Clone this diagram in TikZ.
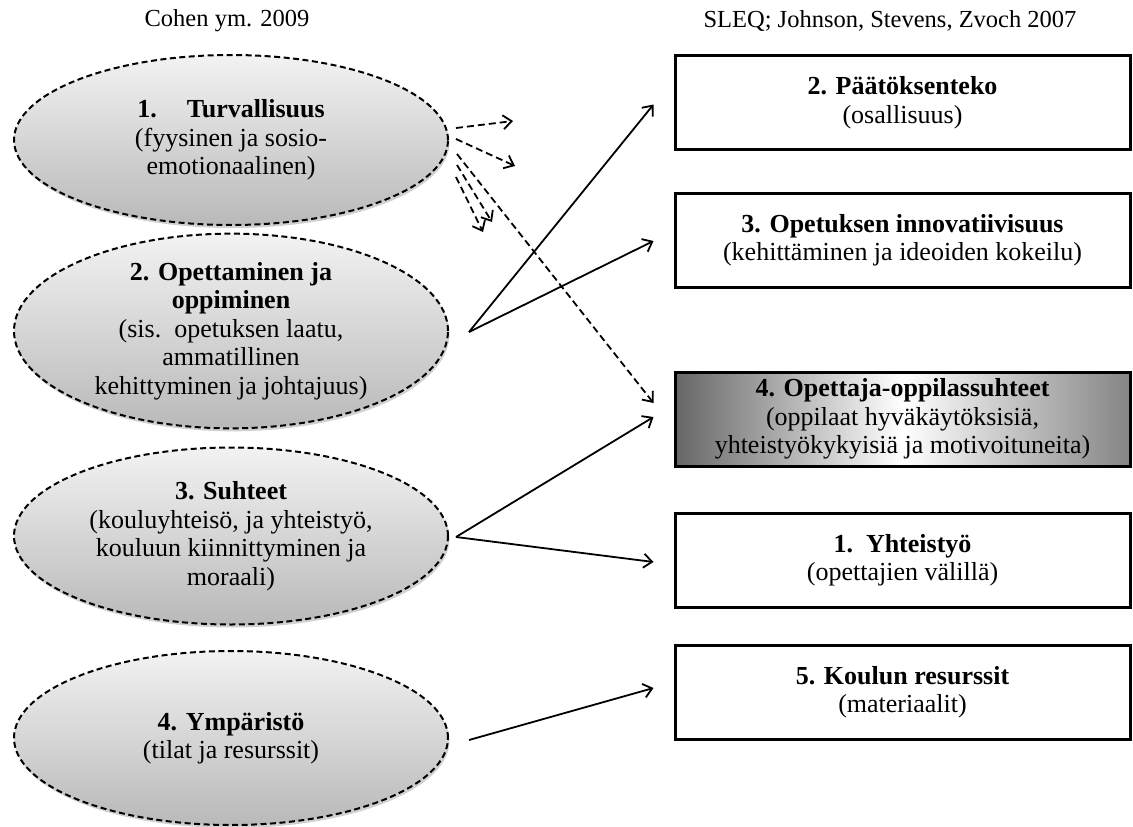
\documentclass[tikz,border=0pt]{standalone}
\usepackage{fontspec}
\setmainfont{Liberation Serif}
\usetikzlibrary{arrows.meta,calc,shapes.geometric,shadows}

\begin{document}
\begin{tikzpicture}[x=1pt,y=-1pt,
  body/.style={font=\fontsize{26}{28.5}\selectfont},
  oval/.style={ellipse, draw=black, dash pattern=on 6pt off 3.5pt, line width=2pt,
    minimum width=434pt, minimum height=176pt, inner sep=0pt, align=center, body,
    top color=gray!10, bottom color=gray!55,
    drop shadow={shadow xshift=1.5pt, shadow yshift=-3pt, opacity=0.18, fill=black}},
  box/.style={rectangle, draw=black, line width=3pt, minimum width=455pt,
    minimum height=94pt, inner sep=0pt, align=center, body, fill=white},
  head/.style={font=\fontsize{24.5}{28}\selectfont},
  tip/.style={-{Straight Barb[length=8.5pt,width=14pt]}},
  dasharrow/.style={tip, line width=1.8pt, dash pattern=on 7pt off 4pt},
  solidarrow/.style={tip, line width=1.8pt},
]
\useasboundingbox (0,0) rectangle (1133,827);

% column headings
\node[head] (h1) at (227,21) {Cohen ym. 2009};
\node[head] (h2) at (890,21) {SLEQ; Johnson, Stevens, Zvoch 2007};

% left column: Cohen et al. dimensions
\node[oval, minimum height=170pt] (e1) at (231,140)
  {\textbf{1.\hspace{30pt}Turvallisuus}\\(fyysinen ja sosio-\\emotionaalinen)};
\node[oval, minimum height=178pt] (e2) at (231,331)
  {\textbf{2. Opettaminen ja}\\\textbf{oppiminen}\\(sis.\ \ opetuksen laatu,\\ammatillinen\\kehittyminen ja johtajuus)};
\node[oval, minimum height=177pt] (e3) at (231,536)
  {\textbf{3. Suhteet}\\(kouluyhteisö, ja yhteistyö,\\kouluun kiinnittyminen ja\\moraali)};
\node[oval, minimum height=174pt] (e4) at (231,738)
  {\textbf{4. Ympäristö}\\(tilat ja resurssit)};

% right column: SLEQ dimensions
\node[box] (bA) at (902.5,102.5) {\textbf{2. Päätöksenteko}\\(osallisuus)};
\node[box] (bB) at (902.5,240) {\textbf{3. Opetuksen innovatiivisuus}\\(kehittäminen ja ideoiden kokeilu)};
\node[box, left color=black!60, right color=black!48, middle color=white] (bC) at (902.5,419)
  {\textbf{4. Opettaja-oppilassuhteet}\\(oppilaat hyväkäytöksisiä,\\yhteistyökykyisiä ja motivoituneita)};
\node[box] (bD) at (902.5,560) {\textbf{1.\ \ Yhteistyö}\\(opettajien välillä)};
\node[box] (bE) at (902.5,692) {\textbf{5. Koulun resurssit}\\(materiaalit)};

% start and end points of the connectors
\coordinate (s11) at ($(e1.east)+(7,-12)$);
\coordinate (s12) at ($(e1.east)+(7,-1)$);
\coordinate (s13) at ($(e1.east)+(8,14)$);
\coordinate (s14) at ($(e1.east)+(8,25)$);
\coordinate (s15) at ($(e1.east)+(7,37)$);
\coordinate (f11) at (513,121);
\coordinate (f12) at (515,166);
\coordinate (f14) at (492,222);
\coordinate (f15) at (483,232);
\coordinate (s2) at ($(e2.east)+(20,1)$);
\coordinate (s3) at ($(e3.east)+(7,1)$);
\coordinate (s4) at ($(e4.east)+(20,2)$);
\coordinate (tA) at ($(bA.west)+(-20,2)$);
\coordinate (tB) at ($(bB.west)+(-20,1)$);
\coordinate (tC1) at ($(bC.west)+(-20,-16)$);
\coordinate (tC2) at ($(bC.west)+(-20,-2)$);
\coordinate (tD) at ($(bD.west)+(-20,2)$);
\coordinate (tE) at ($(bE.west)+(-20,-4)$);

% dashed links from safety
\draw[dasharrow] (s11) -- (f11);
\draw[dasharrow] (s12) -- (f12);
\draw[dasharrow] (s13) -- (tC1);
\draw[dasharrow] (s14) -- (f14);
\draw[dasharrow] (s15) -- (f15);

% solid links
\draw[solidarrow] (s2) -- (tA);
\draw[solidarrow] (s2) -- (tB);
\draw[solidarrow] (s3) -- (tC2);
\draw[solidarrow] (s3) -- (tD);
\draw[solidarrow] (s4) -- (tE);
\end{tikzpicture}
\end{document}
